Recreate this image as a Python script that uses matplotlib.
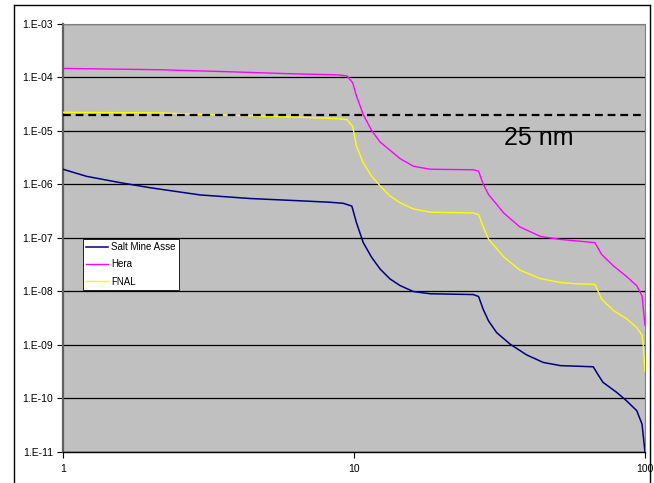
import matplotlib
matplotlib.use("Agg")
import matplotlib.pyplot as plt
from matplotlib.lines import Line2D
from matplotlib.ticker import FixedLocator, NullLocator, FixedFormatter

plt.rcParams['font.family'] = ['Liberation Sans', 'DejaVu Sans']

# Hera
hera_x = [1, 2.15, 3.66, 6.17, 8.76, 9.45, 9.9, 10.2, 10.76, 11.5, 12.3, 13.3, 14.4,
          16.0, 18.3, 25.7, 26.8, 27.8, 29.0, 32.7, 37.1, 43.7, 51.2, 58.5, 67.3,
          70.9, 77.8, 86.3, 93.7, 97.7, 100]
hera_y = [1.45e-4, 1.37e-4, 1.26e-4, 1.15e-4, 1.1e-4, 1.05e-4, 7.8e-5, 4.4e-5, 2.0e-5,
          1.0e-5, 6.1e-6, 4.3e-6, 3.0e-6, 2.16e-6, 1.9e-6, 1.86e-6, 1.75e-6, 1.0e-6,
          6.4e-7, 2.9e-7, 1.6e-7, 1.06e-7, 9.3e-8, 8.7e-8, 8.1e-8, 4.9e-8, 3.0e-8,
          1.9e-8, 1.27e-8, 8.2e-9, 2.3e-9]

# FNAL
fnal_x = [1, 2.15, 3.66, 6.17, 8.76, 9.45, 9.9, 10.2, 10.76, 11.5, 12.3, 13.3, 14.4,
          16.0, 18.3, 25.7, 26.8, 27.8, 29.0, 32.7, 37.1, 43.7, 51.2, 58.5, 67.3,
          70.9, 77.8, 86.3, 93.7, 97.7, 98.6, 100]
fnal_y = [2.2e-5, 2.14e-5, 1.95e-5, 1.8e-5, 1.68e-5, 1.6e-5, 1.2e-5, 5.1e-6, 2.5e-6,
          1.4e-6, 9.3e-7, 6.0e-7, 4.5e-7, 3.45e-7, 3.0e-7, 2.9e-7, 2.7e-7, 1.6e-7,
          9.4e-8, 4.4e-8, 2.5e-8, 1.73e-8, 1.46e-8, 1.38e-8, 1.35e-8, 7.2e-9, 4.4e-9,
          3.1e-9, 2.1e-9, 1.5e-9, 1.0e-9, 3.2e-10]

# Salt Mine Asse
asse_x = [1, 1.206, 1.57, 1.99, 2.96, 4.4, 6.5, 8.27, 9.18, 9.83, 10.2, 10.76, 11.5,
          12.3, 13.3, 14.4, 16.0, 18.3, 25.7, 26.8, 27.8, 29.0, 30.9, 34.4, 39.2,
          44.7, 51.2, 66.4, 68.9, 71.7, 79.9, 86.3, 93.7, 97.7, 100]
asse_y = [1.9e-6, 1.4e-6, 1.07e-6, 8.6e-7, 6.3e-7, 5.4e-7, 4.9e-7, 4.6e-7, 4.4e-7,
          3.9e-7, 1.9e-7, 8.1e-8, 4.3e-8, 2.6e-8, 1.7e-8, 1.28e-8, 9.9e-9, 9.0e-9,
          8.7e-9, 8.0e-9, 4.6e-9, 2.8e-9, 1.7e-9, 1.03e-9, 6.5e-10, 4.7e-10, 4.1e-10,
          3.9e-10, 2.8e-10, 2.0e-10, 1.3e-10, 9.1e-11, 5.9e-11, 3.3e-11, 1.0e-11]

limit_value = 2e-5
limit_label = "25 nm"

y_ticks = [1e-3, 1e-4, 1e-5, 1e-6, 1e-7, 1e-8, 1e-9, 1e-10, 1e-11]
y_labels = ["1.E-03", "1.E-04", "1.E-05", "1.E-06", "1.E-07", "1.E-08", "1.E-09",
            "1.E-10", "1.E-11"]
x_ticks = [1, 10, 100]
x_labels = ["1", "10", "100"]

fig = plt.figure(figsize=(6.54, 4.83), dpi=100)
ax = fig.add_axes([63 / 654, 1 - 452 / 483, 582 / 654, 428.5 / 483])
ax.set_facecolor('#C0C0C0')
ax.set_xscale('log')
ax.set_yscale('log')
ax.set_xlim(1, 100)
ax.set_ylim(1e-11, 1e-3)

ax.yaxis.set_major_locator(FixedLocator(y_ticks))
ax.yaxis.set_major_formatter(FixedFormatter(y_labels))
ax.yaxis.set_minor_locator(NullLocator())
ax.xaxis.set_major_locator(FixedLocator(x_ticks))
ax.xaxis.set_major_formatter(FixedFormatter(x_labels))
ax.xaxis.set_minor_locator(NullLocator())
ax.tick_params(axis='both', direction='out', length=4, width=0.8, labelsize=7.5,
               color='black', pad=3)
ax.tick_params(axis='x', pad=5)

ax.grid(True, axis='y', which='major', color='black', linewidth=0.9)
ax.set_axisbelow(True)

for side in ('top', 'right'):
    ax.spines[side].set_color('#808080')
    ax.spines[side].set_linewidth(0.8)
ax.spines['left'].set_color('#606060')
ax.spines['left'].set_linewidth(1.6)
ax.spines['bottom'].set_color('black')
ax.spines['bottom'].set_linewidth(1.0)

ax.plot(asse_x, asse_y, color='#000080', linewidth=1.1, label='Salt Mine Asse', zorder=3)
ax.plot(hera_x, hera_y, color='#FF00FF', linewidth=1.0, label='Hera', zorder=3)
ax.plot(fnal_x, fnal_y, color='#FFFF00', linewidth=1.0, label='FNAL', zorder=3)

ax.plot([1, 100], [limit_value, limit_value], color='black', linewidth=1.6,
        dashes=(3.5, 2.2), zorder=4)
ax.text(43, 7.2e-6, limit_label, fontsize=18, ha='center', va='center', color='black')

leg = ax.legend(loc='upper left', bbox_to_anchor=(0.034, 0.498), fontsize=7,
                frameon=True, fancybox=False, edgecolor='black', facecolor='white',
                framealpha=1, borderaxespad=0, handlelength=2.2, handletextpad=0.4,
                borderpad=0.35, labelspacing=0.75)
leg.get_frame().set_linewidth(0.6)

# outer frame around the chart area
for xs, ys in (([14 / 654, 14 / 654], [0, 1 - 5 / 483]),
               ([14 / 654, 650 / 654], [1 - 5 / 483, 1 - 5 / 483]),
               ([650 / 654, 650 / 654], [0, 1 - 5 / 483])):
    fig.add_artist(Line2D(xs, ys, transform=fig.transFigure, color='black', linewidth=1.0))

fig.savefig('out.png', dpi=100, facecolor='white')
